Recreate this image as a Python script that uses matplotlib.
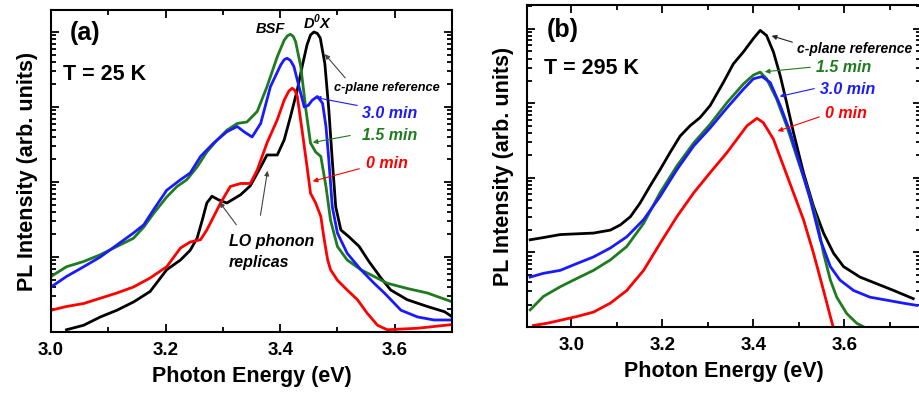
import numpy as np
import matplotlib
matplotlib.use("Agg")
import matplotlib.pyplot as plt
from matplotlib.ticker import LogLocator, NullFormatter, MultipleLocator

plt.rcParams['font.family'] = ['Liberation Sans', 'DejaVu Sans']
plt.rcParams['font.weight'] = 'bold'

# ---------------- Panel (a): T = 25 K (energy in eV, log10 intensity) ----------------
a_ref_E = [3.027, 3.057, 3.086, 3.115, 3.144, 3.173, 3.202, 3.226, 3.243, 3.255, 3.264, 3.272,
           3.281, 3.293, 3.307, 3.331, 3.348, 3.366, 3.377, 3.395, 3.407, 3.418, 3.430, 3.439,
           3.447, 3.453, 3.459, 3.465, 3.470, 3.478, 3.485, 3.491, 3.497, 3.506, 3.520, 3.538,
           3.555, 3.576, 3.593, 3.622, 3.657, 3.687, 3.701]
a_ref_L = [0.03, 0.09, 0.20, 0.29, 0.40, 0.54, 0.83, 0.96, 1.09, 1.25, 1.49, 1.72,
           1.81, 1.76, 1.72, 1.83, 1.95, 2.20, 2.36, 2.36, 2.56, 2.87, 3.23, 3.56,
           3.83, 3.96, 4.00, 3.98, 3.92, 3.58, 2.96, 2.29, 1.67, 1.36, 1.27, 1.14,
           0.94, 0.72, 0.56, 0.43, 0.34, 0.27, 0.20]

a_15_E = [3.000, 3.027, 3.057, 3.086, 3.115, 3.144, 3.162, 3.179, 3.202, 3.220, 3.237, 3.255,
          3.272, 3.290, 3.307, 3.325, 3.342, 3.360, 3.377, 3.395, 3.407, 3.413, 3.418, 3.423,
          3.427, 3.436, 3.445, 3.453, 3.462, 3.471, 3.480, 3.488, 3.500, 3.517, 3.541, 3.564,
          3.587, 3.622, 3.657, 3.701]
a_15_L = [0.74, 0.87, 0.94, 1.03, 1.14, 1.25, 1.40, 1.58, 1.80, 1.94, 2.03, 2.20,
          2.40, 2.56, 2.69, 2.78, 2.80, 2.94, 3.27, 3.67, 3.89, 3.95, 3.97, 3.94,
          3.87, 3.54, 2.96, 2.52, 2.40, 2.34, 1.94, 1.49, 1.14, 0.96, 0.83, 0.74,
          0.65, 0.58, 0.52, 0.40]

a_30_E = [3.000, 3.027, 3.057, 3.086, 3.115, 3.144, 3.162, 3.179, 3.202, 3.226, 3.243, 3.261,
          3.284, 3.307, 3.325, 3.337, 3.351, 3.366, 3.383, 3.401, 3.407, 3.412, 3.418, 3.424,
          3.433, 3.442, 3.449, 3.456, 3.465, 3.474, 3.480, 3.485, 3.491, 3.500, 3.517, 3.541,
          3.564, 3.582, 3.611, 3.640, 3.669, 3.701]
a_30_L = [0.60, 0.74, 0.87, 1.00, 1.16, 1.32, 1.43, 1.63, 1.89, 2.03, 2.12, 2.34,
          2.52, 2.67, 2.74, 2.67, 2.60, 2.78, 3.27, 3.56, 3.63, 3.65, 3.62, 3.54,
          3.27, 3.00, 3.02, 3.09, 3.14, 3.05, 2.74, 2.29, 1.67, 1.32, 1.05, 0.83,
          0.65, 0.52, 0.29, 0.20, 0.16, 0.16]

a_0_E = [3.000, 3.027, 3.057, 3.086, 3.115, 3.144, 3.173, 3.202, 3.226, 3.243, 3.261, 3.272,
         3.284, 3.296, 3.313, 3.331, 3.348, 3.360, 3.377, 3.395, 3.407, 3.415, 3.421, 3.426,
         3.430, 3.439, 3.447, 3.453, 3.462, 3.471, 3.477, 3.483, 3.488, 3.500, 3.517, 3.535,
         3.552, 3.570, 3.587, 3.640, 3.701]
a_0_L = [0.29, 0.34, 0.38, 0.45, 0.52, 0.60, 0.72, 0.87, 1.12, 1.20, 1.23, 1.36,
         1.54, 1.72, 1.94, 1.98, 1.98, 2.16, 2.52, 2.83, 3.09, 3.21, 3.25, 3.22,
         3.14, 2.65, 2.20, 1.85, 1.72, 1.54, 1.23, 0.96, 0.83, 0.69, 0.56, 0.43,
         0.25, 0.09, 0.03, 0.05, 0.10]

# ---------------- Panel (b): T = 295 K ----------------
b_ref_E = [2.910, 2.939, 2.976, 3.012, 3.049, 3.086, 3.108, 3.130, 3.151, 3.173, 3.195, 3.217,
           3.239, 3.261, 3.283, 3.305, 3.334, 3.356, 3.378, 3.400, 3.415, 3.429, 3.444, 3.459,
           3.473, 3.488, 3.510, 3.532, 3.554, 3.576, 3.598, 3.634, 3.671, 3.708, 3.751]
b_ref_L = [1.17, 1.20, 1.24, 1.25, 1.26, 1.30, 1.37, 1.48, 1.66, 1.89, 2.11, 2.34,
           2.56, 2.70, 2.81, 2.97, 3.28, 3.53, 3.69, 3.87, 3.98, 3.91, 3.69, 3.37,
           3.01, 2.61, 2.07, 1.62, 1.26, 0.99, 0.81, 0.67, 0.58, 0.49, 0.38]

b_15_E = [2.910, 2.939, 2.976, 3.012, 3.049, 3.086, 3.122, 3.159, 3.195, 3.232, 3.269, 3.305,
          3.342, 3.378, 3.400, 3.415, 3.429, 3.451, 3.473, 3.495, 3.517, 3.539, 3.554, 3.569,
          3.583, 3.605, 3.627, 3.649]
b_15_L = [0.23, 0.41, 0.54, 0.65, 0.76, 0.90, 1.08, 1.39, 1.80, 2.16, 2.47, 2.72,
          3.01, 3.26, 3.38, 3.42, 3.33, 3.06, 2.70, 2.29, 1.89, 1.44, 0.99, 0.63,
          0.40, 0.18, 0.05, -0.02]

b_30_E = [2.910, 2.939, 2.976, 3.012, 3.049, 3.086, 3.122, 3.159, 3.195, 3.232, 3.269, 3.305,
          3.342, 3.378, 3.400, 3.419, 3.437, 3.459, 3.481, 3.503, 3.525, 3.547, 3.569, 3.590,
          3.620, 3.656, 3.693, 3.729, 3.759]
b_30_L = [0.67, 0.72, 0.76, 0.85, 0.94, 1.06, 1.21, 1.44, 1.75, 2.11, 2.43, 2.67,
          2.94, 3.19, 3.33, 3.36, 3.28, 2.97, 2.61, 2.16, 1.71, 1.17, 0.81, 0.63,
          0.49, 0.40, 0.36, 0.32, 0.29]

b_0_E = [2.917, 2.947, 2.976, 3.012, 3.049, 3.086, 3.122, 3.159, 3.195, 3.232, 3.269, 3.305,
         3.342, 3.364, 3.386, 3.408, 3.422, 3.444, 3.466, 3.488, 3.510, 3.532, 3.554, 3.569,
         3.576]
b_0_L = [0.02, 0.05, 0.09, 0.14, 0.20, 0.32, 0.49, 0.76, 1.12, 1.48, 1.80, 2.07,
         2.34, 2.52, 2.70, 2.80, 2.74, 2.52, 2.16, 1.80, 1.44, 0.99, 0.49, 0.14,
         -0.02]

x_ticks_a = [3.0, 3.2, 3.4, 3.6]
x_ticks_b = [3.0, 3.2, 3.4, 3.6]

C_BLACK = '#000000'
C_GREEN = '#1e7b1e'
C_BLUE = '#1a1aff'
C_RED = '#ff0000'

fig = plt.figure(figsize=(9.19, 3.94), dpi=100)
axA = fig.add_axes([51/919, (394-332)/394, 401/919, 322/394])
axB = fig.add_axes([527/919, (394-327)/394, 394/919, 322/394])


def style(ax, xlim, ylim, xt):
    ax.set_yscale('log')
    ax.set_xlim(*xlim)
    ax.set_ylim(*ylim)
    ax.set_xticks(xt)
    ax.set_xticklabels([f"{v:.1f}" for v in xt])
    ax.xaxis.set_minor_locator(MultipleLocator(0.1))
    ax.yaxis.set_major_locator(LogLocator(base=10, numticks=10))
    ax.yaxis.set_minor_locator(LogLocator(base=10, subs=np.arange(2, 10), numticks=20))
    ax.yaxis.set_major_formatter(NullFormatter())
    ax.yaxis.set_minor_formatter(NullFormatter())
    ax.tick_params(which='both', direction='in', top=True, right=True, width=1.3)
    ax.tick_params(which='major', length=6)
    ax.tick_params(which='minor', length=3.5)
    ax.tick_params(axis='x', which='major', labelsize=13.5, pad=7)
    for s in ax.spines.values():
        s.set_linewidth(1.5)
    for lab in ax.get_xticklabels():
        lab.set_fontweight('bold')
    ax.set_xlabel('Photon Energy (eV)', fontsize=15.5, fontweight='bold', labelpad=5)
    ax.set_ylabel('PL Intensity (arb. units)', fontsize=15.5, fontweight='bold', labelpad=6)


lw = 2.0
def curve(ax, E, L, c):
    ax.plot(E, 10 ** np.asarray(L), color=c, lw=lw, solid_joinstyle='round')

curve(axA, a_ref_E, a_ref_L, C_BLACK)
curve(axA, a_15_E, a_15_L, C_GREEN)
curve(axA, a_30_E, a_30_L, C_BLUE)
curve(axA, a_0_E, a_0_L, C_RED)
style(axA, (3.0, 3.7), (1.0, 10 ** 4.293), x_ticks_a)

curve(axB, b_ref_E, b_ref_L, C_BLACK)
curve(axB, b_15_E, b_15_L, C_GREEN)
curve(axB, b_30_E, b_30_L, C_BLUE)
curve(axB, b_0_E, b_0_L, C_RED)
style(axB, (2.903, 3.768), (1.0, 10 ** 4.32), x_ticks_b)

# ---- annotations (figure pixel coordinates, origin top-left) ----
def fx(x):
    return x / 919
def fy(y):
    return 1 - y / 394

def txt(x, y, s, size, color='k', style='normal', ha='left'):
    fig.text(fx(x), fy(y), s, fontsize=size, color=color, fontstyle=style,
             fontweight='bold', ha=ha, va='center')

def arr(x0, y0, x1, y1, color):
    fig.add_artist(matplotlib.patches.FancyArrowPatch(
        (fx(x0), fy(y0)), (fx(x1), fy(y1)), transform=fig.transFigure,
        arrowstyle='-|>', mutation_scale=7, color=color, lw=0.8))

txt(70, 33, '(a)', 18)
txt(63, 74, 'T = 25 K', 15.5)
txt(256, 29, 'BSF', 10.5, style='italic')
txt(303, 22, r'D$^{\mathregular{0}}$X', 10.5, style='italic')
txt(334, 88, 'c-plane reference', 9.2, style='italic')
txt(362, 113, '3.0 min', 11.5, C_BLUE, 'italic')
txt(362, 135, '1.5 min', 11.5, C_GREEN, 'italic')
txt(366, 164, '0 min', 11.5, C_RED, 'italic')
txt(229, 242, 'LO phonon', 11.5, style='italic')
txt(229, 262, 'replicas', 11.5, style='italic')

arr(347, 80, 323, 52, '#444444')
arr(360, 106, 313, 97, C_BLUE)
arr(353, 135, 310, 143, C_GREEN)
arr(362, 168, 310, 182, C_RED)
arr(238, 227, 218, 200, '#444444')
arr(260, 218, 268, 168, '#444444')

txt(547, 30, '(b)', 18)
txt(544, 68, 'T = 295 K', 15.5)
txt(797, 49, 'c-plane reference', 10, style='italic')
txt(816, 67, '1.5 min', 11.5, C_GREEN, 'italic')
txt(820, 89, '3.0 min', 11.5, C_BLUE, 'italic')
txt(825, 114, '0 min', 11.5, C_RED, 'italic')

arr(795, 43, 769, 35, '#222222')
arr(813, 67, 762, 72, C_GREEN)
arr(817, 88, 777, 97, C_BLUE)
arr(822, 116, 775, 132, C_RED)

fig.savefig('out.png', dpi=100)
